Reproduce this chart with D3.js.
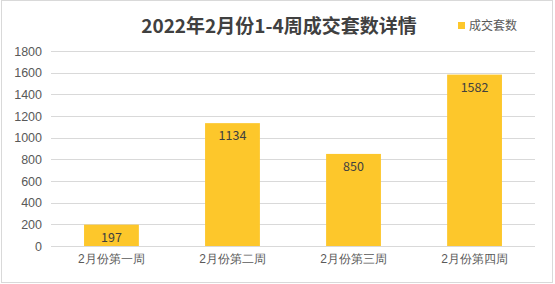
<!DOCTYPE html>
<html>
<head>
<meta charset="utf-8">
<script src="https://cdn.jsdelivr.net/npm/d3@7"></script>
<style>
  body { margin: 0; background: #fff; }
  svg { display: block; font-family: "Noto Sans CJK SC", "Noto Sans", sans-serif; }
</style>
</head>
<body>
<div id="chart"></div>
<script>
// data
const weeks = ["2月份第一周", "2月份第二周", "2月份第三周", "2月份第四周"];
const deals = [197, 1134, 850, 1582];
const yTicks = [0, 200, 400, 600, 800, 1000, 1200, 1400, 1600, 1800];
const title = "2022年2月份1-4周成交套数详情";
const seriesName = "成交套数";

const W = 555, H = 284;
const margin = {top: 51, right: 20, bottom: 38, left: 51};

const svg = d3.select("#chart").append("svg")
    .attr("width", W)
    .attr("height", H);

// outer frame
svg.append("rect")
    .attr("x", 1.5).attr("y", 0.5)
    .attr("width", 551).attr("height", 282)
    .attr("fill", "#fff")
    .attr("stroke", "#d9d9d9");

const x = d3.scaleBand()
    .domain(weeks)
    .range([margin.left, W - margin.right])
    .paddingInner(0.547)
    .paddingOuter(0.273);

const y = d3.scaleLinear()
    .domain([0, 1800])
    .range([H - margin.bottom, margin.top]);

// gridlines
svg.append("g")
    .selectAll("line")
    .data(yTicks)
    .enter().append("line")
    .attr("x1", margin.left).attr("x2", W - margin.right)
    .attr("y1", d => Math.round(y(d)) + 0.5)
    .attr("y2", d => Math.round(y(d)) + 0.5)
    .attr("stroke", "#d9d9d9");

// y axis labels
const yAxis = d3.axisLeft(y).tickValues(yTicks).tickFormat(d3.format("d")).tickSize(0).tickPadding(9);
const gy = svg.append("g")
    .attr("transform", "translate(" + margin.left + ",0)")
    .call(yAxis);
gy.select(".domain").remove();
gy.selectAll("text")
    .attr("fill", "#595959")
    .style("font-size", "12.5px");

// x axis labels
const xAxis = d3.axisBottom(x).tickSize(0).tickPadding(8);
const gx = svg.append("g")
    .attr("transform", "translate(0," + (H - margin.bottom) + ")")
    .call(xAxis);
gx.select(".domain").remove();
gx.selectAll("text")
    .attr("fill", "#595959")
    .style("font-size", "12px");

// bars
svg.append("g")
    .selectAll("rect")
    .data(deals)
    .enter().append("rect")
    .attr("x", (d, i) => x(weeks[i]))
    .attr("y", d => y(d))
    .attr("width", x.bandwidth())
    .attr("height", d => y(0) - y(d))
    .attr("fill", "#FDC72B");

// value labels, inside end
svg.append("g")
    .selectAll("text")
    .data(deals)
    .enter().append("text")
    .attr("x", (d, i) => x(weeks[i]) + x.bandwidth() / 2)
    .attr("y", d => y(d) + 17)
    .attr("text-anchor", "middle")
    .attr("fill", "#404040")
    .style("font-size", "12.5px")
    .text(d => d);

// title
svg.append("text")
    .attr("x", 279)
    .attr("y", 33)
    .attr("text-anchor", "middle")
    .attr("fill", "#404040")
    .style("font-size", "19px")
    .style("font-weight", "bold")
    .text(title);

// legend
const legend = svg.append("g").attr("transform", "translate(458,22)");
legend.append("rect")
    .attr("width", 7).attr("height", 7)
    .attr("fill", "#FDC72B");
legend.append("text")
    .attr("x", 11).attr("y", 8)
    .attr("fill", "#595959")
    .style("font-size", "12px")
    .text(seriesName);
</script>
</body>
</html>
